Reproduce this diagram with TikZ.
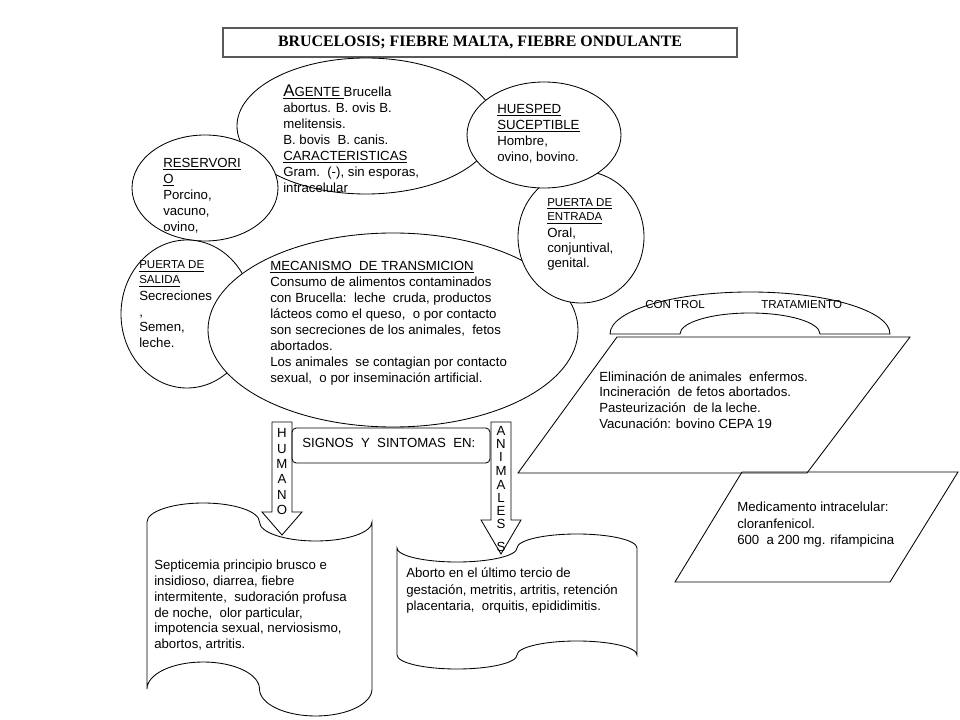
\documentclass[tikz,border=0pt]{standalone}
\usepackage{fontspec}
\setmainfont{Liberation Sans}
\newfontfamily\titlefont{Liberation Serif}
\tikzset{>=latex}
\tikzstyle{blob}=[draw=black,fill=white,line width=0.6pt]
\tikzstyle{edge}=[draw=black,line width=0.6pt]
% anchored at the baseline of the last line
\tikzstyle{txt}=[anchor=base west,inner sep=0pt,align=left,font=\fontsize{9.4}{11.4}\selectfont]
\tikzstyle{smalltxt}=[anchor=base west,inner sep=0pt,align=left,font=\fontsize{8.2}{10.2}\selectfont]
\tikzstyle{letter}=[anchor=base,inner sep=0pt,font=\fontsize{9.4}{11.4}\selectfont]
\def\px{0.025cm}

\begin{document}
\begin{tikzpicture}[x=\px,y=-\px]
  \useasboundingbox (0,0) rectangle (960,720);

  % TITLE
  \node[draw=black!65,line width=1pt,minimum width=514*\px,minimum height=29*\px,inner sep=0pt,
    font=\titlefont\bfseries\fontsize{11.3}{13}\selectfont] (title) at (480,42.5)
    {BRUCELOSIS; FIEBRE MALTA, FIEBRE ONDULANTE};

  % ELLIPSES
  \draw[blob] (366,126) ellipse [x radius=129, y radius=68];
  \draw[blob] (205,188) ellipse [x radius=73, y radius=53];
  \draw[blob] (187,314) ellipse [x radius=66, y radius=74];
  \draw[blob] (393,330) ellipse [x radius=185, y radius=97];
  \draw[blob] (581,237) ellipse [x radius=63, y radius=66];
  \draw[blob] (544,135) ellipse [x radius=77, y radius=53];

  % CONTROL / TRATAMIENTO
  \draw[edge] (610,334) arc[start angle=180, end angle=360, x radius=140, y radius=42]
    -- (820,334) arc[start angle=0, end angle=-180, x radius=70, y radius=21] -- cycle;
  \draw[edge] (617,337) -- (910,337) -- (807,473) -- (518,473) -- cycle;
  \draw[edge] (742,472) -- (958,472) -- (890,582) -- (675,582) -- cycle;

  % SIGNOS
  \draw[edge] (272,422) -- (292,422) -- (292,512) -- (302,512) -- (282,535)
    -- (262,512) -- (272,512) -- cycle;
  \draw[edge] (491,422) -- (511,422) -- (511,520) -- (521,520) -- (501,554)
    -- (481,520) -- (491,520) -- cycle;
  \draw[edge,rounded corners=3pt] (292,428) rectangle (490,463);
  \draw[edge] (147,522) arc[start angle=180, end angle=360, x radius=56.25, y radius=19]
    arc[start angle=180, end angle=0, x radius=56.25, y radius=19] -- (372,689)
    arc[start angle=0, end angle=180, x radius=56.25, y radius=27]
    arc[start angle=0, end angle=-180, x radius=56.25, y radius=27] -- cycle;
  \draw[edge] (397,548) arc[start angle=180, end angle=0, x radius=60, y radius=14]
    arc[start angle=180, end angle=360, x radius=60, y radius=14] -- (637,655)
    arc[start angle=0, end angle=-180, x radius=60, y radius=14]
    arc[start angle=0, end angle=180, x radius=60, y radius=14] -- cycle;

  % TEXTS
  \node[txt] (agente) at (283,192.5)
    {\underline{{\fontsize{12}{12}\selectfont A}GENTE\ }Brucella\\abortus. B. ovis B.\\melitensis.\\
     B. bovis\ \ B. canis.\\\underline{CARACTERISTICAS}\\Gram.\ \ (-), sin esporas,\\intracelular};
  \node[txt] (reservorio) at (163,231.5)
    {\underline{RESERVORI}\\\underline{O}\\Porcino,\\vacuno,\\ovino,};
  \node[txt] (huesped) at (497,161.5)
    {\underline{HUESPED}\\\underline{SUCEPTIBLE}\\Hombre,\\ovino, bovino.};
  \node[smalltxt] (entrada-head) at (547,221) {\underline{PUERTA DE}\\\underline{ENTRADA}};
  \node[txt,font=\fontsize{9.4}{10.8}\selectfont] (entrada) at (547,267.5) {Oral,\\conjuntival,\\genital.};
  \node[smalltxt,font=\fontsize{8.2}{10.8}\selectfont] (salida-head) at (139,284) {\underline{PUERTA DE}\\\underline{SALIDA}};
  \node[txt,font=\fontsize{9.4}{11.1}\selectfont] (salida) at (139,347.5) {Secreciones\\,\\Semen,\\leche.};
  \node[txt] (mecanismo) at (270,382.5)
    {\underline{MECANISMO\ \ DE TRANSMICION}\\Consumo de alimentos contaminados\\
     con Brucella:\ \ leche\ \ cruda, productos\\l\'acteos como el queso,\ \ o por contacto\\
     son secreciones de los animales,\ \ fetos\\abortados.\\
     Los animales\ \ se contagian por contacto\\sexual,\ \ o por inseminaci\'on artificial.};
  \node[smalltxt] (control) at (645,309) {CON TROL};
  \node[smalltxt] (tratamiento) at (761,309) {TRATAMIENTO};
  \node[txt,font=\fontsize{9.4}{11.2}\selectfont] (eliminacion) at (599,428.5)
    {Eliminaci\'on de animales\ \ enfermos.\\Incineraci\'on\ \ de fetos abortados.\\
     Pasteurizaci\'on\ \ de la leche.\\Vacunaci\'on: bovino CEPA 19};
  \node[txt,font=\fontsize{9.4}{11.7}\selectfont] (medicamento) at (737,544.5)
    {Medicamento intracelular:\\cloranfenicol.\\600\ \ a 200 mg. rifampicina};
  \node[txt] (signos) at (302,447.5) {SIGNOS\ \ Y\ \ SINTOMAS\ \ EN:};
  \node[txt,font=\fontsize{9.4}{11.2}\selectfont] (septicemia) at (154,648.5)
    {Septicemia principio brusco e\\insidioso, diarrea, fiebre\\
     intermitente,\ \ sudoraci\'on profusa\\de noche,\ \ olor particular,\\
     impotencia sexual, nerviosismo,\\abortos, artritis.};
  \node[txt,font=\fontsize{9.4}{11.7}\selectfont] (aborto) at (406,610.5)
    {Aborto en el \'ultimo tercio de\\gestaci\'on, metritis, artritis, retenci\'on\\
     placentaria,\ \ orquitis, epididimitis.};

  % ARROW LETTERS
  \foreach \l [count=\i] in {H,U,M,A,N,O}
    \node[letter] (hum\i) at (282,{433+15.4*(\i-1)+4.7}) {\l};
  \foreach \l/\y [count=\i] in {A/431,N/444,I/457,M/471,A/485,L/498,E/511,S/524,S/547}
    \node[letter] (ani\i) at (501,{\y+4.7}) {\l};

\end{tikzpicture}
\end{document}
